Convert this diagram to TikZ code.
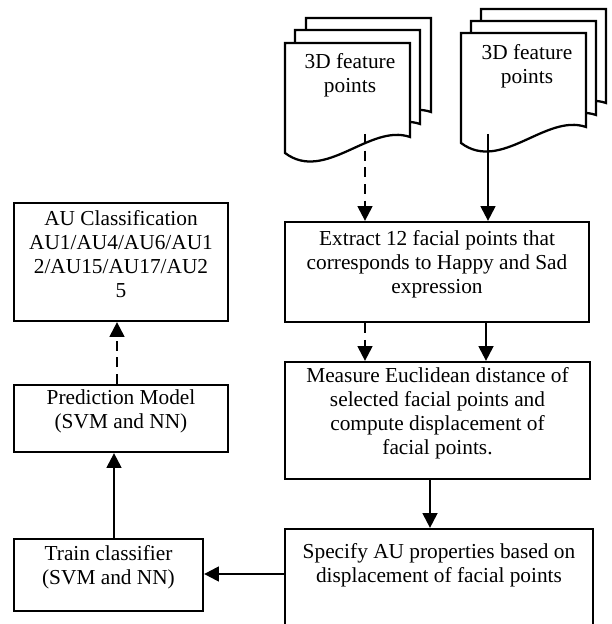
\documentclass[tikz,border=0pt]{standalone}
\usepackage{fontspec}
\setmainfont{Liberation Serif}
\usetikzlibrary{arrows.meta,fit}
\begin{document}
\begin{tikzpicture}[x=0.75pt,y=-0.75pt,
  box/.style={draw, line width=1.7pt, inner sep=0pt, align=center, font=\fontsize{16}{18}\selectfont},
  arr/.style={line width=1.7pt, -{Triangle[length=11pt,width=11pt]}},
  dsh/.style={dash pattern=on 7.5pt off 5pt},
  page/.style={draw, fill=white, line width=1.7pt},
  lbl/.style={font=\fontsize{16}{18}\selectfont, align=center, inner sep=0pt},
  docpage/.pic={\draw[page] (0,0) -- (125,0) -- (125,94) .. controls (85,80) and (40,140) .. (0,110) -- cycle;}]
\useasboundingbox (0,0) rectangle (611,624);
\clip (0,0) rectangle (611,624);
% document stacks
\pic at (306,18) {docpage};
\pic at (295,30) {docpage};
\pic at (285,43) {docpage};
\pic at (481,9) {docpage};
\pic at (471,21) {docpage};
\pic at (461,33) {docpage};
\node[lbl] (d1) at (350,75) {3D feature\\points};
\node[lbl] (d2) at (527,66) {3D feature\\points};
\coordinate (d1o) at (365,134);
\coordinate (d2o) at (488,134);
% boxes
\node[box, fit={(285,222)(589,322)}] (ext) {Extract 12 facial points that\\corresponds to Happy and Sad\\expression};
\node[box, fit={(285,362)(590,479)}] (meas) {Measure Euclidean distance of\\selected facial points and\\compute displacement of\\facial points.};
\node[box, fit={(285,529)(593,650)}] (spec) {};
\node[lbl] (spect) at (439,565) {Specify AU properties based on\\displacement of facial points};
\node[box, fit={(14,539)(203,611)}] (train) {Train classifier\\(SVM and NN)};
\node[box, fit={(14,385)(228,452)}] (pred) {Prediction Model\\(SVM and NN)};
\node[box, fit={(14,203)(228,321)}] (au) {AU Classification\\AU1/AU4/AU6/AU1\\2/AU15/AU17/AU2\\5};
% connectors
\coordinate (m1) at (365,0);
\coordinate (m2) at (486,0);
\coordinate (m3) at (430,0);
\coordinate (h1) at (0,574);
\coordinate (v1) at (114,0);
\coordinate (v2) at (117,0);
\draw[arr,dsh] (d1o) -- (d1o |- ext.north);
\draw[arr] (d2o) -- (d2o |- ext.north);
\draw[arr,dsh] (m1 |- ext.south) -- (m1 |- meas.north);
\draw[arr] (m2 |- ext.south) -- (m2 |- meas.north);
\draw[arr] (m3 |- meas.south) -- (m3 |- spec.north);
\draw[arr] (h1 -| spec.west) -- (h1 -| train.east);
\draw[arr] (v1 |- train.north) -- (v1 |- pred.south);
\draw[arr,dsh] (v2 |- pred.north) -- (v2 |- au.south);
\end{tikzpicture}
\end{document}
